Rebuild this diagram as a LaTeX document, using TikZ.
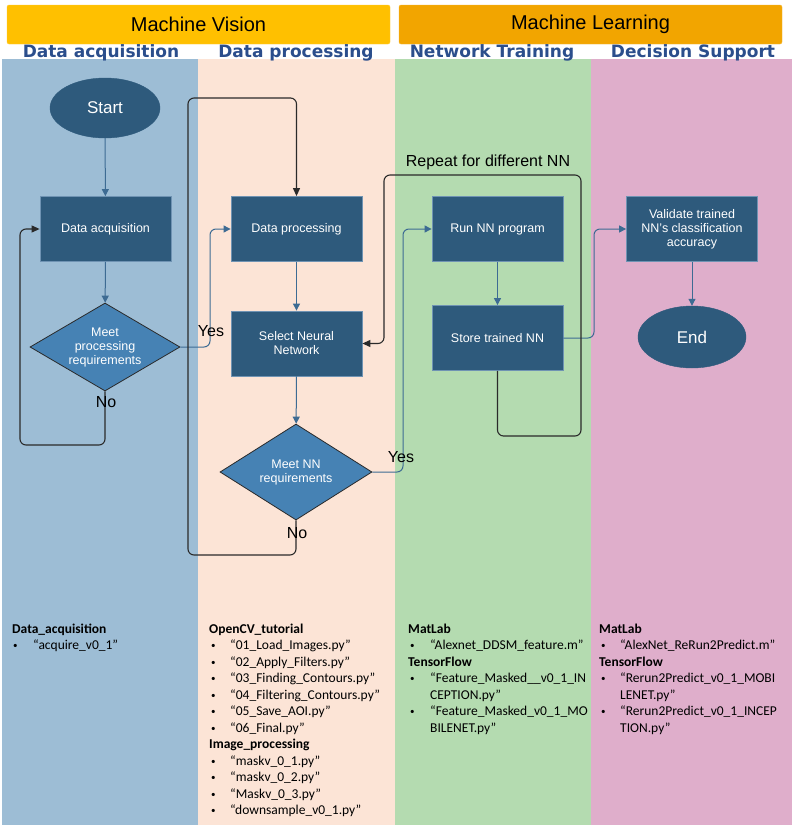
\documentclass[tikz,border=0pt]{standalone}
\usepackage{fontspec}
\setmainfont{Liberation Sans}
\newfontfamily\hdrfont{DejaVu Sans}
\newfontfamily\calfont{Carlito}
\usetikzlibrary{shapes.geometric,arrows.meta}
\definecolor{laneA}{HTML}{9DBDD5}
\definecolor{laneB}{HTML}{FCE4D6}
\definecolor{laneC}{HTML}{B4DBB0}
\definecolor{laneD}{HTML}{DFAECB}
\definecolor{mvcol}{HTML}{FFC000}
\definecolor{mlcol}{HTML}{F2A500}
\definecolor{subcol}{HTML}{2B4E8C}
\definecolor{nodeblue}{HTML}{2E5A7C}
\definecolor{nodeedge}{HTML}{6F93B3}
\definecolor{diamblue}{HTML}{4682B4}
\definecolor{linkblue}{HTML}{3D6B93}
\definecolor{linkdark}{HTML}{2A2A2A}
\tikzset{
  lane/.style={fill=#1, draw=none},
  topbox/.style={fill=#1, draw=#1!80!white, rounded corners=2, minimum width=383, minimum height=39, font=\fontsize{20}{24}\selectfont, text=black},
  subhdr/.style={font=\hdrfont\bfseries\fontsize{17}{20}\selectfont, text=subcol},
  procbox/.style={rectangle, fill=nodeblue, draw=nodeedge, line width=0.8, minimum width=131, minimum height=65, text=white, font=\fontsize{12.5}{14}\selectfont, align=center, inner sep=2},
  decbox/.style={diamond, fill=diamblue, draw=linkdark, line width=0.8, text=white, font=\fontsize{12.5}{14}\selectfont, align=center, inner sep=0, aspect=1.7},
  termbox/.style={ellipse, fill=nodeblue, draw=nodeblue, text=white, font=\fontsize{17}{20}\selectfont, inner sep=0},
  barrow/.style={draw=linkblue, line width=1, -{Triangle[length=7,width=7]}, rounded corners=6},
  karrow/.style={draw=linkdark, line width=1.1, -{Triangle[length=8,width=7]}, rounded corners=6},
  klabel/.style={font=\fontsize{16}{19}\selectfont, text=black, inner sep=0},
  listhd/.style={font=\calfont\bfseries\fontsize{13.5}{16}\selectfont, anchor=base west, inner sep=0},
  listit/.style={font=\calfont\fontsize{13.5}{16}\selectfont, anchor=base west, inner sep=0},
  bul/.style={font=\calfont\fontsize{9}{10}\selectfont, anchor=base west, inner sep=0}
}
\begin{document}
\begin{tikzpicture}[x=1pt,y=-1pt]
\useasboundingbox (0,0) rectangle (794,825);
\fill[white] (0,0) rectangle (794,825);
% lanes
\fill[laneA] (2,59) rectangle (198,825);
\fill[laneB] (198,59) rectangle (395,825);
\fill[laneC] (395,59) rectangle (591,825);
\fill[laneD] (591,59) rectangle (792,825);
% headers
\node[topbox=mvcol] (mv) at (198.5,24.5) {Machine Vision};
\node[topbox=mlcol] (ml) at (590.5,24.5) {Machine Learning};
\node[subhdr] (s1) at (101,53) {Data acquisition};
\node[subhdr] (s2) at (296,53) {Data processing};
\node[subhdr] (s3) at (492,53) {Network Training};
\node[subhdr] (s4) at (693,53) {Decision Support};
% nodes
\node[termbox, minimum width=110, minimum height=60] (start) at (105,108) {Start};
\node[procbox] (acq) at (105.5,229) {Data acquisition};
\node[decbox, minimum width=150, minimum height=88] (dec1) at (105,347) {Meet\\processing\\requirements};
\node[procbox] (dp) at (296.5,229) {Data processing};
\node[procbox] (sel) at (296.5,343.5) {Select Neural\\Network};
\node[decbox, minimum width=152, minimum height=96] (dec2) at (296,472) {Meet NN\\requirements};
\node[procbox] (run) at (497.5,229) {Run NN program};
\node[procbox] (store) at (497.5,338) {Store trained NN};
\node[procbox] (val) at (692,229) {Validate trained\\NN's classification\\accuracy};
\node[termbox, minimum width=108, minimum height=62] (end) at (692,337) {End};
% coordinates
\coordinate (a1) at (105,445);
\coordinate (a2) at (20,445);
\coordinate (a3) at (20,229);
\coordinate (b1) at (210,347);
\coordinate (b2) at (210,229);
\coordinate (c1) at (296,555);
\coordinate (c2) at (188,555);
\coordinate (c3) at (188,98);
\coordinate (c4) at (296.5,98);
\coordinate (d1) at (403,472);
\coordinate (d2) at (403,229);
\coordinate (e1) at (594,338);
\coordinate (e2) at (594,229);
\coordinate (f1) at (497.5,436);
\coordinate (f2) at (581,436);
\coordinate (f3) at (581,175);
\coordinate (f4) at (384,175);
\coordinate (f5) at (384,343.5);
% connectors
\draw[barrow] (start) -- (acq);
\draw[barrow] (acq) -- (dec1);
\draw[karrow] (dec1.south) -- (a1) -- (a2) -- (a3) -- (acq.west);
\draw[barrow] (dec1.east) -- (b1) -- (b2) -- (dp.west);
\draw[barrow] (dp) -- (sel);
\draw[barrow] (sel) -- (dec2);
\draw[karrow] (dec2.south) -- (c1) -- (c2) -- (c3) -- (c4) -- (dp.north);
\draw[barrow] (dec2.east) -- (d1) -- (d2) -- (run.west);
\draw[barrow] (run) -- (store);
\draw[barrow] (store.east) -- (e1) -- (e2) -- (val.west);
\draw[karrow] (store.south) -- (f1) -- (f2) -- (f3) -- (f4) -- (f5) -- (sel.east);
\draw[barrow] (val) -- (end);
% labels
\node[klabel] (no1) at (106,402) {No};
\node[klabel] (yes1) at (211,331) {Yes};
\node[klabel] (no2) at (297,533) {No};
\node[klabel] (yes2) at (401,457) {Yes};
\node[klabel] (rep) at (488,162) {Repeat for different NN};
% lists lane 1
\node[listhd] (l1h) at (12,633) {Data\_acquisition};
\node[bul] (l1b1) at (13,648.5) {•};
\node[listit] (l1t1) at (33,649.5) {“acquire\_v0\_1”};
% lists lane 2
\node[listhd] (l2h) at (209,633) {OpenCV\_tutorial};
\foreach \t [count=\i] in {“01\_Load\_Images.py”,“02\_Apply\_Filters.py”,“03\_Finding\_Contours.py”,“04\_Filtering\_Contours.py”,“05\_Save\_AOI.py”,“06\_Final.py”}{
  \node[bul] (l2b\i) at (211,632+16.5*\i) {•};
  \node[listit] (l2t\i) at (230,633+16.5*\i) {\t};
}
\node[listhd] (l2h2) at (209,748.5) {Image\_processing};
\foreach \t [count=\i] in {“maskv\_0\_1.py”,“maskv\_0\_2.py”,“Maskv\_0\_3.py”,“downsample\_v0\_1.py”}{
  \node[bul] (l2c\i) at (211,747.5+16.5*\i) {•};
  \node[listit] (l2u\i) at (230,748.5+16.5*\i) {\t};
}
% lists lane 3
\node[listhd] (l3h) at (408,633) {MatLab};
\node[bul] (l3b1) at (410,648.5) {•};
\node[listit] (l3t1) at (430,649.5) {“Alexnet\_DDSM\_feature.m”};
\node[listhd] (l3h2) at (408,666) {TensorFlow};
\node[bul] (l3b2) at (410,681.5) {•};
\node[listit] (l3t2) at (430,682.5) {“Feature\_Masked\_\_v0\_1\_IN};
\node[listit] (l3t3) at (430,699) {CEPTION.py”};
\node[bul] (l3b4) at (410,714.5) {•};
\node[listit] (l3t4) at (430,715.5) {“Feature\_Masked\_v0\_1\_MO};
\node[listit] (l3t5) at (430,732) {BILENET.py”};
% lists lane 4
\node[listhd] (l4h) at (599,633) {MatLab};
\node[bul] (l4b1) at (601,648.5) {•};
\node[listit] (l4t1) at (620,649.5) {“AlexNet\_ReRun2Predict.m”};
\node[listhd] (l4h2) at (599,666) {TensorFlow};
\node[bul] (l4b2) at (601,681.5) {•};
\node[listit] (l4t2) at (620,682.5) {“Rerun2Predict\_v0\_1\_MOBI};
\node[listit] (l4t3) at (620,699) {LENET.py”};
\node[bul] (l4b4) at (601,714.5) {•};
\node[listit] (l4t4) at (620,715.5) {“Rerun2Predict\_v0\_1\_INCEP};
\node[listit] (l4t5) at (620,732) {TION.py”};
\end{tikzpicture}
\end{document}
